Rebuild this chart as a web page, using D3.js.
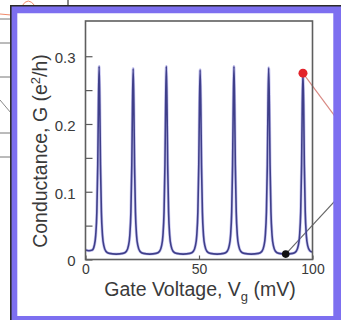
<!DOCTYPE html>
<html>
<head>
<meta charset="utf-8">
<script src="https://cdn.jsdelivr.net/npm/d3@7"></script>
<style>
  html, body { margin: 0; padding: 0; background: #fff; }
  svg { display: block; font-family: "Liberation Sans", Arial, sans-serif; }
</style>
</head>
<body>
<div id="chart"></div>
<script>
// gate voltage (mV) and conductance (e^2/h)
const gateVoltage = [
  0, 1.5, 3.0, 3.9, 4.5, 5.0, 5.4, 5.7, 6.0, 6.3, 6.6, 7.0, 7.5, 8.1, 9.0, 10.5,
  13.5,
  16.5, 18.0, 18.9, 19.5, 20.0, 20.4, 20.7, 21.0, 21.3, 21.6, 22.0, 22.5, 23.1, 24.0, 25.5,
  28.3,
  31.1, 32.6, 33.5, 34.1, 34.6, 35.0, 35.3, 35.6, 35.9, 36.2, 36.6, 37.1, 37.7, 38.6, 40.1,
  43.0,
  46.0, 47.5, 48.4, 49.0, 49.5, 49.9, 50.2, 50.5, 50.8, 51.1, 51.5, 52.0, 52.6, 53.5, 55.0,
  58.0,
  60.9, 62.4, 63.3, 63.9, 64.4, 64.8, 65.1, 65.4, 65.7, 66.0, 66.4, 66.9, 67.5, 68.4, 69.9,
  73.0,
  76.2, 77.7, 78.6, 79.2, 79.7, 80.1, 80.4, 80.7, 81.0, 81.3, 81.7, 82.2, 82.8, 83.7, 85.2,
  88.2,
  91.3, 92.8, 93.7, 94.3, 94.8, 95.2, 95.5, 95.8, 96.1, 96.4, 96.8, 97.3, 97.9, 98.8, 100
]
const conductance = [
  0.014, 0.013, 0.014, 0.021, 0.036, 0.07, 0.14, 0.23, 0.285, 0.23, 0.14, 0.07, 0.035, 0.02, 0.012, 0.009,
  0.008,
  0.009, 0.012, 0.02, 0.035, 0.07, 0.14, 0.23, 0.282, 0.23, 0.14, 0.07, 0.035, 0.02, 0.012, 0.009,
  0.008,
  0.009, 0.012, 0.02, 0.035, 0.07, 0.14, 0.23, 0.285, 0.23, 0.14, 0.07, 0.035, 0.02, 0.012, 0.009,
  0.008,
  0.009, 0.012, 0.02, 0.035, 0.07, 0.14, 0.23, 0.280, 0.23, 0.14, 0.07, 0.035, 0.02, 0.012, 0.009,
  0.008,
  0.009, 0.012, 0.02, 0.035, 0.07, 0.14, 0.23, 0.285, 0.23, 0.14, 0.07, 0.035, 0.02, 0.012, 0.009,
  0.008,
  0.009, 0.012, 0.02, 0.035, 0.07, 0.14, 0.23, 0.283, 0.23, 0.14, 0.07, 0.035, 0.02, 0.012, 0.009,
  0.008,
  0.009, 0.012, 0.02, 0.035, 0.07, 0.14, 0.23, 0.275, 0.23, 0.14, 0.07, 0.035, 0.02, 0.013, 0.011
]
const xTicks = [0, 50, 100]
const yTicks = [0, 0.05, 0.1, 0.15, 0.2, 0.25, 0.3]
const yLabels = [0, 0.1, 0.2, 0.3]
// highlighted points: [mV, G, colour]
const markerV = [95.8, 88.2]
const markerG = [0.275, 0.008]
const markerColor = ["#e3232b", "#111111"]

const W = 341, H = 320
const plot = { left: 85.5, right: 312.5, top: 21, bottom: 259.5 }

const svg = d3.select("#chart").append("svg")
    .attr("width", W)
    .attr("height", H)

const x = d3.scaleLinear().domain([0, 100]).range([plot.left, plot.right])
const y = d3.scaleLinear().domain([0, 0.352]).range([plot.bottom, plot.top])

// scraps of the page behind the figure
const bg = svg.append("g").attr("fill", "none")
bg.append("path").attr("d", "M22,6 Q28,-4 35,6").attr("stroke", "#f08a6a").attr("stroke-width", 1)
bg.append("line").attr("x1", 68).attr("y1", 0).attr("x2", 68).attr("y2", 6).attr("stroke", "#111")
bg.append("line").attr("x1", 0).attr("y1", 14).attr("x2", 11).attr("y2", 15).attr("stroke", "#f08a6a")
;[19, 43, 77, 133, 157].forEach(v => {
    bg.append("line").attr("x1", 0).attr("y1", v).attr("x2", 11).attr("y2", v)
        .attr("stroke", "#777").attr("stroke-width", 1)
})
bg.append("line").attr("x1", 0).attr("y1", 100).attr("x2", 11).attr("y2", 113).attr("stroke", "#888")

// white panel
svg.append("rect")
    .attr("x", 10).attr("y", 5).attr("width", W - 10).attr("height", H - 5)
    .attr("fill", "#fff")

// y axis ticks (inward)
const yAxis = d3.axisLeft(y)
    .tickValues(yTicks)
    .tickSize(-7)
    .tickPadding(10)
    .tickFormat(d => yLabels.some(v => Math.abs(v - d) < 1e-9) ? d3.format("")(d) : "")
const gy = svg.append("g").attr("transform", `translate(${plot.left},0)`).call(yAxis)
gy.select(".domain").remove()
gy.selectAll("line").attr("stroke", "#5a5a5a").attr("stroke-width", 1.2)
gy.selectAll("text").attr("font-size", "15px").attr("fill", "#3a3a3a").attr("dy", "0.42em")

const xAxis = d3.axisBottom(x)
    .tickValues(xTicks)
    .tickSize(-4)
    .tickPadding(5)
const gx = svg.append("g").attr("transform", `translate(0,${plot.bottom})`).call(xAxis)
gx.select(".domain").remove()
gx.selectAll("line").attr("stroke", "#5a5a5a").attr("stroke-width", 1.2)
gx.selectAll("text").attr("font-size", "14px").attr("fill", "#3a3a3a")

// pointer lines from the two marked points, running off under the frame
svg.append("line")
    .attr("x1", x(markerV[0])).attr("y1", y(markerG[0]))
    .attr("x2", 345).attr("y2", 130)
    .attr("stroke", "#d98a84").attr("stroke-width", 1.2)
svg.append("line")
    .attr("x1", x(markerV[1])).attr("y1", y(markerG[1]))
    .attr("x2", 345).attr("y2", 190)
    .attr("stroke", "#666").attr("stroke-width", 1.1)

// trace
const pts = gateVoltage.map((v, i) => [v, conductance[i]])
const line = d3.line()
    .x(d => x(d[0]))
    .y(d => y(d[1]))
    .curve(d3.curveMonotoneX)

svg.append("path")
    .datum(pts)
    .attr("d", line)
    .attr("fill", "none")
    .attr("stroke", "#8a86e0")
    .attr("stroke-width", 3)
    .attr("stroke-opacity", 0.45)
svg.append("path")
    .datum(pts)
    .attr("d", line)
    .attr("fill", "none")
    .attr("stroke", "#3f3f8a")
    .attr("stroke-width", 1.6)
    .attr("stroke-linejoin", "round")

// plot box
svg.append("rect")
    .attr("x", plot.left).attr("y", plot.top)
    .attr("width", plot.right - plot.left).attr("height", plot.bottom - plot.top)
    .attr("fill", "none")
    .attr("stroke", "#5e5e5e")
    .attr("stroke-width", 1.6)

svg.selectAll(".marker")
    .data(markerV)
    .enter().append("circle")
    .attr("class", "marker")
    .attr("cx", d => x(d))
    .attr("cy", (d, i) => y(markerG[i]))
    .attr("r", (d, i) => i === 0 ? 4.5 : 3.8)
    .attr("fill", (d, i) => markerColor[i])

// axis titles
const xt = svg.append("text")
    .attr("x", (plot.left + plot.right) / 2 + 1)
    .attr("y", 296)
    .attr("text-anchor", "middle")
    .attr("font-size", "19.5px")
    .attr("fill", "#3a3a3a")
xt.append("tspan").text("Gate Voltage, V")
xt.append("tspan").attr("font-size", "13px").attr("dy", 5).text("g")
xt.append("tspan").attr("dy", -5).text(" (mV)")

const yt = svg.append("text")
    .attr("transform", "translate(46.5,151) rotate(-90)")
    .attr("text-anchor", "middle")
    .attr("font-size", "19.5px")
    .attr("fill", "#3a3a3a")
yt.append("tspan").text("Conductance, G (e")
yt.append("tspan").attr("font-size", "13px").attr("dy", -7).text("2")
yt.append("tspan").attr("dy", 7).text("/h)")

// lavender frame drawn last so the pointer lines disappear under it
const frame = svg.append("g")
frame.append("path")
    .attr("fill", "#7d6ff0")
    .attr("fill-rule", "evenodd")
    .attr("d", `M11,6 H${W} V${H} H11 Z M17.3,13.3 V316 H333.3 V13.3 Z`)
frame.append("path")
    .attr("fill", "none")
    .attr("stroke", "#2a2a2a")
    .attr("stroke-width", 1.6)
    .attr("d", `M10.8,${H} V5.8 H${W}`)
</script>
</body>
</html>
